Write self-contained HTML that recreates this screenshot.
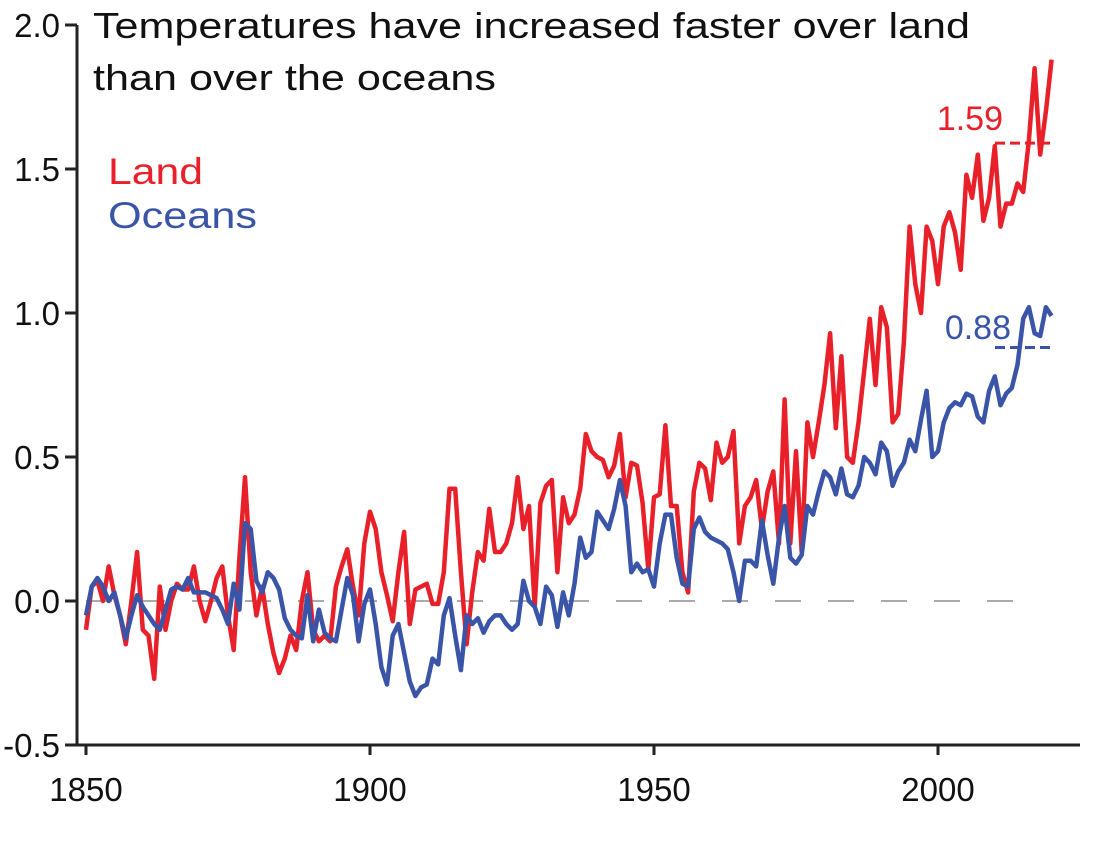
<!DOCTYPE html>
<html><head><meta charset="utf-8"><style>
html,body{margin:0;padding:0;background:#fff;}
svg{display:block;font-family:"Liberation Sans",sans-serif;}
</style></head><body>
<svg id="chart" width="1114" height="844" viewBox="0 0 1114 844">
<text x="93" y="38" font-size="36" fill="#111" textLength="877" lengthAdjust="spacingAndGlyphs">Temperatures have increased faster over land</text>
<text x="93" y="90" font-size="36" fill="#111" textLength="403" lengthAdjust="spacingAndGlyphs">than over the oceans</text>
<text x="108" y="184" font-size="37" fill="#e8202a" textLength="95" lengthAdjust="spacingAndGlyphs">Land</text>
<text x="108" y="228" font-size="37" fill="#3a55a8" textLength="149" lengthAdjust="spacingAndGlyphs">Oceans</text>
<g id="axes"></g>
<g id="series"></g>
<text x="1003" y="130" font-size="34" fill="#e8202a" text-anchor="end">1.59</text>
<text x="1011" y="339" font-size="34" fill="#3a55a8" text-anchor="end">0.88</text>
</svg>
<script>
const years=[];for(let y=1850;y<=2020;y++)years.push(y);
const land=[-0.10,0.05,0.07,0.00,0.12,0.02,-0.05,-0.15,0.00,0.17,
-0.10,-0.12,-0.27,0.05,-0.10,0.00,0.06,0.04,0.04,0.12,
0.00,-0.07,0.00,0.08,0.12,-0.05,-0.17,0.15,0.43,0.10,
-0.05,0.05,-0.08,-0.18,-0.25,-0.20,-0.12,-0.17,0.00,0.10,
-0.10,-0.14,-0.12,-0.14,0.05,0.12,0.18,0.05,-0.05,0.20,
0.31,0.25,0.10,0.02,-0.07,0.10,0.24,-0.08,0.04,0.05,
0.06,-0.01,-0.01,0.10,0.39,0.39,0.10,-0.15,0.03,0.17,
0.14,0.32,0.17,0.17,0.20,0.27,0.43,0.25,0.33,-0.02,
0.34,0.40,0.42,0.10,0.36,0.27,0.30,0.39,0.58,0.52,
0.50,0.49,0.43,0.47,0.58,0.36,0.48,0.47,0.34,0.11,
0.36,0.37,0.61,0.33,0.33,0.10,0.03,0.38,0.48,0.46,
0.35,0.55,0.48,0.50,0.59,0.20,0.33,0.36,0.42,0.25,
0.38,0.45,0.20,0.70,0.20,0.52,0.17,0.62,0.50,0.62,
0.75,0.93,0.60,0.85,0.50,0.48,0.62,0.80,0.98,0.75,
1.02,0.95,0.62,0.65,0.90,1.30,1.10,1.00,1.30,1.25,
1.10,1.30,1.35,1.28,1.15,1.48,1.40,1.55,1.32,1.40,
1.58,1.30,1.38,1.38,1.45,1.42,1.60,1.85,1.55,1.70,1.88];
const oceans=[-0.05,0.05,0.08,0.05,0.00,0.03,-0.05,-0.13,-0.05,0.02,
-0.02,-0.05,-0.08,-0.10,-0.03,0.04,0.05,0.04,0.08,0.03,
0.03,0.03,0.02,0.01,-0.03,-0.08,0.06,-0.03,0.27,0.25,
0.07,0.03,0.10,0.08,0.04,-0.06,-0.10,-0.12,-0.13,0.02,
-0.14,-0.03,-0.11,-0.13,-0.14,-0.03,0.08,0.02,-0.14,-0.01,
0.04,-0.08,-0.23,-0.29,-0.12,-0.08,-0.18,-0.28,-0.33,-0.30,
-0.29,-0.20,-0.22,-0.05,0.01,-0.12,-0.24,-0.05,-0.08,-0.06,
-0.11,-0.07,-0.05,-0.05,-0.08,-0.10,-0.08,0.07,0.00,-0.02,
-0.08,0.05,0.02,-0.09,0.03,-0.05,0.06,0.22,0.15,0.17,
0.31,0.28,0.25,0.32,0.42,0.33,0.10,0.13,0.10,0.11,
0.05,0.20,0.30,0.30,0.15,0.06,0.05,0.25,0.29,0.24,
0.22,0.21,0.20,0.18,0.10,0.00,0.14,0.14,0.12,0.28,
0.16,0.06,0.22,0.33,0.15,0.13,0.16,0.33,0.30,0.38,
0.45,0.43,0.37,0.46,0.37,0.36,0.40,0.50,0.48,0.44,
0.55,0.52,0.40,0.45,0.48,0.56,0.52,0.63,0.73,0.50,
0.52,0.62,0.67,0.69,0.68,0.72,0.71,0.64,0.62,0.73,
0.78,0.68,0.72,0.74,0.82,0.98,1.02,0.93,0.92,1.02,0.99];
const yTicks=[2.0,1.5,1.0,0.5,0.0,-0.5];
const yTickLabels=["2.0","1.5","1.0","0.5","0.0","-0.5"];
const xTicks=[1850,1900,1950,2000];
const landRef=[1.59];
const oceanRef=[0.88];

const NS="http://www.w3.org/2000/svg";
const X=y=>86+(y-1850)*5.68;
const Y=v=>601-v*288;
function mk(tag,attrs,parent){const e=document.createElementNS(NS,tag);for(const k in attrs)e.setAttribute(k,attrs[k]);parent.appendChild(e);return e;}
const ax=document.getElementById('axes'), se=document.getElementById('series');
let e;
e=mk('line',{x1:77,y1:Y(2.0),x2:77,y2:Y(-0.5),stroke:'#222','stroke-width':3},ax);


e=mk('line',{x1:77,y1:Y(-0.5),x2:1080,y2:Y(-0.5),stroke:'#222','stroke-width':3},ax);


yTicks.forEach((v,i)=>{
 e=mk('line',{x1:65,y1:Y(v),x2:77,y2:Y(v),stroke:'#222','stroke-width':3},ax);
 
 
 e=mk('text',{x:60,y:Y(v)+12,'font-size':33,'text-anchor':'end',fill:'#111'},ax);
 e.textContent=yTickLabels[i];
 
 
});
xTicks.forEach(t=>{
 e=mk('line',{x1:X(t),y1:Y(-0.5),x2:X(t),y2:Y(-0.5)+10,stroke:'#222','stroke-width':3},ax);
 
 
 e=mk('text',{x:X(t),y:801,'font-size':33,'text-anchor':'middle',fill:'#111'},ax);
 e.textContent=String(t);
 
 
});
e=mk('line',{x1:X(1850),y1:Y(0),x2:1035,y2:Y(0),stroke:'#aaa','stroke-width':2,'stroke-dasharray':'26,27'},ax);


function path(vals){return vals.map((v,i)=>(i?'L':'M')+X(years[i]).toFixed(1)+','+Y(v).toFixed(1)).join(' ');}
e=mk('path',{d:path(land),fill:'none',stroke:'#e8202a','stroke-width':4.5,'stroke-linejoin':'round'},se);


e=mk('path',{d:path(oceans),fill:'none',stroke:'#3a55a8','stroke-width':4.5,'stroke-linejoin':'round'},se);


e=mk('line',{x1:995,y1:Y(landRef[0]),x2:1050,y2:Y(landRef[0]),stroke:'#e8202a','stroke-width':3,'stroke-dasharray':'10,5'},se);


e=mk('line',{x1:995,y1:Y(oceanRef[0]),x2:1050,y2:Y(oceanRef[0]),stroke:'#3a55a8','stroke-width':3,'stroke-dasharray':'10,5'},se);


</script>
</body></html>
